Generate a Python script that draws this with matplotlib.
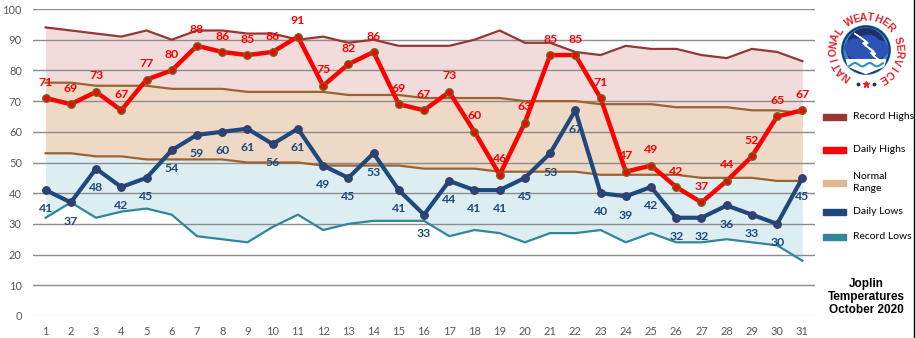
import numpy as np
import matplotlib
matplotlib.use("Agg")
import matplotlib.pyplot as plt
from matplotlib.patches import Circle, Ellipse, Polygon, Rectangle

# Joplin daily temperatures, October 2020
days = list(range(1, 32))
record_highs = [94, 93, 92, 91, 93, 90, 93, 93, 92, 92, 90, 91, 89, 90, 88, 88,
                88, 90, 93, 89, 89, 86, 85, 88, 87, 87, 85, 84, 87, 86, 83]
normal_highs = [76, 76, 75, 75, 75, 74, 74, 74, 73, 73, 73, 73, 72, 72, 72, 71,
                71, 71, 71, 70, 70, 70, 69, 69, 69, 68, 68, 68, 67, 67, 66]
normal_lows = [53, 53, 52, 52, 51, 51, 51, 51, 50, 50, 50, 49, 49, 49, 49, 48,
               48, 48, 47, 47, 47, 47, 46, 46, 46, 46, 45, 45, 45, 44, 44]
record_lows = [32, 37, 32, 34, 35, 33, 26, 25, 24, 29, 33, 28, 30, 31, 31, 31,
               26, 28, 27, 24, 27, 27, 28, 24, 27, 24, 24, 25, 24, 23, 18]
daily_highs = [71, 69, 73, 67, 77, 80, 88, 86, 85, 86, 91, 75, 82, 86, 69, 67,
               73, 60, 46, 63, 85, 85, 71, 47, 49, 42, 37, 44, 52, 65, 67]
daily_lows = [41, 37, 48, 42, 45, 54, 59, 60, 61, 56, 61, 49, 45, 53, 41, 33,
              44, 41, 41, 45, 53, 67, 40, 39, 42, 32, 32, 36, 33, 30, 45]
y_ticks = list(range(0, 101, 10))
legend_labels = ["Record Highs", "Daily Highs", "Normal\nRange", "Daily Lows", "Record Lows"]
title_text = "Joplin\nTemperatures\nOctober 2020"

C_REC_HI = "#953735"
C_HI = "#FF0000"
C_NORM_LINE = "#9C6230"
C_NORM_LEG = "#DDB892"
C_LO = "#1F497D"
C_REC_LO = "#31859C"
F_PINK = "#F2DCDB"
F_TAN = "#EDD9C6"
F_BLUE = "#DDEEF3"

plt.rcParams["font.family"] = ["Lato", "DejaVu Sans"]

W, H = 916, 338
fig = plt.figure(figsize=(W / 100, H / 100), dpi=100)
fig.patch.set_facecolor("white")

ax = fig.add_axes([33 / W, 1 - 316 / H, (815 - 33) / W, (316 - 9) / H])
ax.set_xlim(0.5, 31.5)
ax.set_ylim(0, 100)

# shaded bands
ax.fill_between(days, normal_highs, record_highs, color=F_PINK, lw=0, zorder=0.2)
ax.fill_between(days, normal_lows, normal_highs, color=F_TAN, lw=0, zorder=0.2)
ax.fill_between(days, record_lows, normal_lows, color=F_BLUE, lw=0, zorder=0.2)

# reference lines
ax.plot(days, record_highs, color=C_REC_HI, lw=1.6, zorder=2)
ax.plot(days, normal_highs, color=C_NORM_LINE, lw=1.6, zorder=2)
ax.plot(days, normal_lows, color=C_NORM_LINE, lw=1.6, zorder=2)
ax.plot(days, record_lows, color=C_REC_LO, lw=1.6, zorder=2)

# observed temperatures
ax.plot(days, daily_lows, color=C_LO, lw=3.0, marker="o", ms=5.5,
        mfc=C_LO, mec="#4A2F5E", mew=0.8, zorder=3, solid_joinstyle="round")
ax.plot(days, daily_highs, color=C_HI, lw=3.2, marker="o", ms=5.5,
        mfc=C_HI, mec="#4F7A28", mew=0.9, zorder=4, solid_joinstyle="round")

for d, v in zip(days, daily_highs):
    ax.annotate(str(v), (d, v), xytext=(0, 11.5), textcoords="offset points",
                ha="center", va="center", color=C_HI, fontsize=8.8,
                fontweight="bold", zorder=5)
for d, v in zip(days, daily_lows):
    ax.annotate(str(v), (d, v), xytext=(0, -13.5), textcoords="offset points",
                ha="center", va="center", color=C_LO, fontsize=8.8,
                fontweight="bold", zorder=5)

ax.set_yticks(y_ticks)
ax.set_xticks(days)
ax.tick_params(axis="both", length=0, labelsize=8, labelcolor="#595959")
ax.tick_params(axis="y", pad=8)
ax.tick_params(axis="x", pad=7)
ax.set_axisbelow(True)
ax.yaxis.grid(True, color="#8C8C8C", lw=1.0)
ax.get_ygridlines()[0].set_color("#D9D9D9")
for s in ax.spines.values():
    s.set_visible(False)

# legend
for i, (lab, col) in enumerate(zip(legend_labels,
                                   [C_REC_HI, C_HI, C_NORM_LEG, C_LO, C_REC_LO])):
    yc = [116.7, 150.0, 182.7, 211.7, 236.7][i]
    fig.patches.append(Rectangle((823 / W, 1 - (yc + 3) / H), 23 / W, 6 / H,
                                 transform=fig.transFigure, color=col))
    fig.text(853 / W, 1 - (yc - 0.5) / H, lab, ha="left", va="center",
             fontsize=7.5, color="black", linespacing=1.4)

fig.text(866 / W, 1 - 297 / H, title_text, ha="center", va="center",
         fontsize=8.5, fontweight="bold", family="Liberation Sans",
         linespacing=1.15)

# right border
fig.lines.append(plt.Line2D([913.5 / W, 913.5 / W], [0, 1],
                            transform=fig.transFigure, color="black", lw=1))

# emblem
lg = fig.add_axes([(866 - 42) / W, 1 - (50 + 42) / H, 84 / W, 84 / H])
lg.set_xlim(-1, 1)
lg.set_ylim(-1, 1)
lg.axis("off")
lg.add_patch(Circle((0, 0), 0.58, color="#2E8FC4"))
lg.add_patch(Circle((0, 0.05), 0.46, color="#1F2F6E"))
lg.add_patch(Circle((0, 0), 0.56, fill=False, ec="#1F2F6E", lw=1.2))
for cx, cy, w, h in [(-0.25, 0.05, 0.5, 0.42), (0.05, 0.12, 0.56, 0.46),
                     (0.3, 0.02, 0.46, 0.4), (0.0, -0.08, 0.84, 0.33)]:
    lg.add_patch(Ellipse((cx, cy), w, h, color="#2B54B5"))
lg.add_patch(Polygon([(-0.47, -0.23), (0.47, -0.23), (0.42, -0.39), (0.0, -0.56),
                      (-0.42, -0.39)], color="white"))
xs = np.linspace(-0.4, 0.4, 40)
lg.plot(xs, -0.35 + 0.04 * np.sin(xs * 18), color="#2E8FC4", lw=1.5)
lg.add_patch(Polygon([(-0.28, 0.4), (0.05, 0.17), (-0.02, 0.11), (0.23, -0.09),
                      (0.17, -0.13), (0.42, -0.33), (0.11, -0.07), (0.19, -0.03),
                      (-0.08, 0.16), (0.0, 0.21)], color="white"))
txt = "NATIONAL WEATHER SERVICE"
angs = np.linspace(234, -58.6, len(txt))
for ch, a in zip(txt, angs):
    r = np.deg2rad(a)
    lg.text(0.78 * np.cos(r), 0.78 * np.sin(r), ch, rotation=a - 90,
            ha="center", va="center", fontsize=7.5, fontweight="bold",
            color="#E8202A", family="Liberation Sans")
lg.plot([-0.2, 0.2], [-0.8, -0.8], ls="none", marker="o", ms=1.8,
        color="#1F2F6E")
lg.plot([0], [-0.8], marker="*", ms=4.5, color="#E8202A")

fig.savefig("out.png", dpi=100)
